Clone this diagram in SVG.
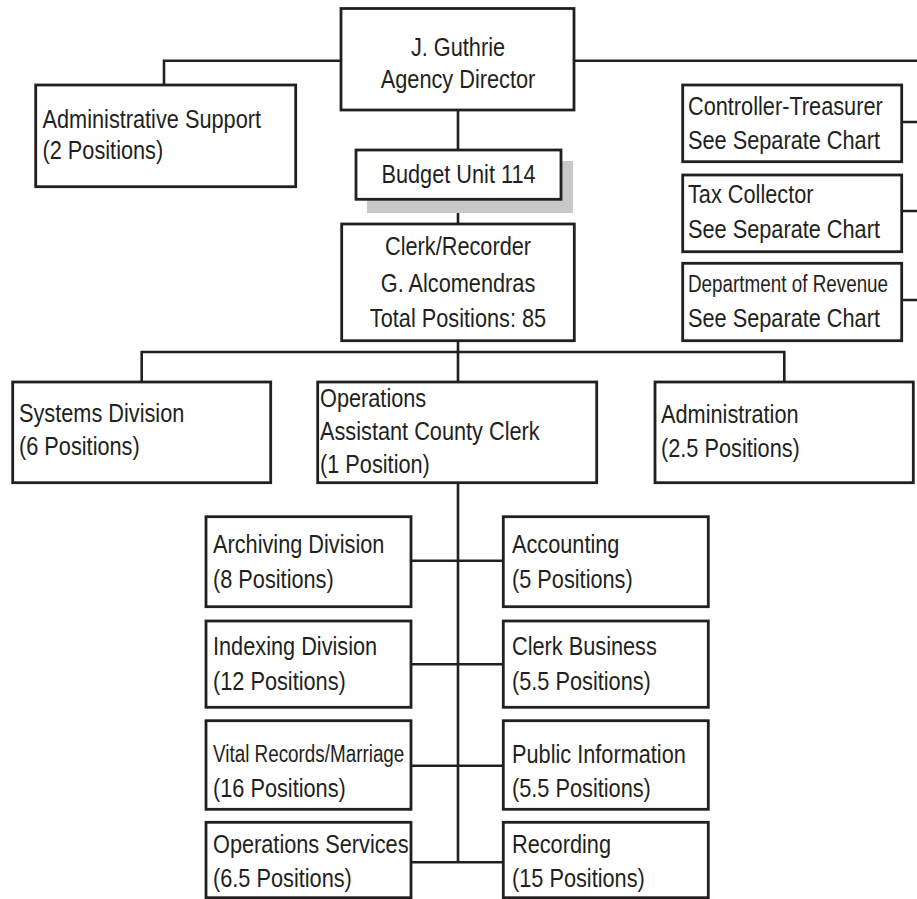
<svg xmlns="http://www.w3.org/2000/svg" width="917" height="899" viewBox="0 0 917 899">
  <style>
    .box { fill: #ffffff; stroke: #231f20; stroke-width: 2.8; }
    .shadow { fill: #c8c8c8; stroke: none; }
    .line { fill: none; stroke: #231f20; stroke-width: 2.6; }
    text { font-family: "Liberation Sans", Arial, sans-serif; font-size: 26.5px; fill: #231f20; }
    .c { text-anchor: middle; }
    .sm { font-size: 23px; }
  </style>
  <rect width="917" height="899" fill="#ffffff"/>

  <!-- connectors -->
  <g id="connectors">
    <path class="line" d="M164,85 V60.7 H341"/>
    <path class="line" d="M574,60.7 H917"/>
    <path class="line" d="M902,122 H917 M902,211 H917 M902,300 H917"/>
    <path class="line" d="M458,110 V150 M458,199 V224 M458,341 V382"/>
    <path class="line" d="M141.7,382 V352 H784.3 V382"/>
    <path class="line" d="M458,483 V862.3"/>
    <path class="line" d="M411,560.7 H503 M411,664.3 H503 M411,765.7 H503 M411,862.3 H503"/>
  </g>

  <!-- labels use a narrowed sans: each text is scaled to 82% width at its anchor -->
  <g id="director">
    <rect class="box" x="341" y="8.5" width="233" height="101.5"/>
    <text class="c" transform="translate(458,56) scale(0.82,1)">J. Guthrie</text>
    <text class="c" transform="translate(458,88) scale(0.82,1)">Agency Director</text>
  </g>

  <g id="admin-support">
    <rect class="box" x="35.7" y="85" width="260" height="101.7"/>
    <text transform="translate(42.5,128.3) scale(0.82,1)">Administrative Support</text>
    <text transform="translate(42.5,159.3) scale(0.82,1)">(2 Positions)</text>
  </g>

  <g id="budget-unit">
    <rect class="shadow" x="367" y="161" width="206" height="52"/>
    <rect class="box" x="356" y="150" width="205" height="49.3"/>
    <text class="c" transform="translate(458.5,182.7) scale(0.82,1)">Budget Unit 114</text>
  </g>

  <g id="controller-treasurer">
    <rect class="box" x="682.7" y="85" width="219" height="76.7"/>
    <text transform="translate(688,115) scale(0.82,1)">Controller-Treasurer</text>
    <text transform="translate(688,149) scale(0.82,1)">See Separate Chart</text>
  </g>

  <g id="tax-collector">
    <rect class="box" x="682.7" y="175" width="219" height="76.7"/>
    <text transform="translate(688,203.3) scale(0.82,1)">Tax Collector</text>
    <text transform="translate(688,238.3) scale(0.82,1)">See Separate Chart</text>
  </g>

  <g id="revenue">
    <rect class="box" x="682.7" y="263.3" width="219" height="77.4"/>
    <text class="sm" transform="translate(688,291.7) scale(0.82,1)">Department of Revenue</text>
    <text transform="translate(688,326.5) scale(0.82,1)">See Separate Chart</text>
  </g>

  <g id="clerk-recorder">
    <rect class="box" x="341.7" y="224" width="232.6" height="116.7"/>
    <text class="c" transform="translate(458,255) scale(0.82,1)">Clerk/Recorder</text>
    <text class="c" transform="translate(458,291.7) scale(0.82,1)">G. Alcomendras</text>
    <text class="c" transform="translate(458,326.7) scale(0.82,1)">Total Positions: 85</text>
  </g>

  <g id="systems">
    <rect class="box" x="12.7" y="382" width="258" height="100.7"/>
    <text transform="translate(19,421.7) scale(0.82,1)">Systems Division</text>
    <text transform="translate(19,455) scale(0.82,1)">(6 Positions)</text>
  </g>

  <g id="operations">
    <rect class="box" x="317.7" y="382" width="279" height="100.7"/>
    <text transform="translate(320,406.7) scale(0.82,1)">Operations</text>
    <text transform="translate(320,440) scale(0.82,1)">Assistant County Clerk</text>
    <text transform="translate(320,473.3) scale(0.82,1)">(1 Position)</text>
  </g>

  <g id="administration">
    <rect class="box" x="655" y="382" width="258.3" height="100.7"/>
    <text transform="translate(661,423.3) scale(0.82,1)">Administration</text>
    <text transform="translate(661,456.7) scale(0.82,1)">(2.5 Positions)</text>
  </g>

  <g id="archiving">
    <rect class="box" x="206" y="516.7" width="205" height="90"/>
    <text transform="translate(213,553.3) scale(0.82,1)">Archiving Division</text>
    <text transform="translate(213,588.3) scale(0.82,1)">(8 Positions)</text>
  </g>

  <g id="indexing">
    <rect class="box" x="206" y="621" width="205" height="86.3"/>
    <text transform="translate(213,655) scale(0.82,1)">Indexing Division</text>
    <text transform="translate(213,690) scale(0.82,1)">(12 Positions)</text>
  </g>

  <g id="vital-records">
    <rect class="box" x="206" y="720.7" width="205" height="88.6"/>
    <text class="sm" transform="translate(213,762) scale(0.82,1)">Vital Records/Marriage</text>
    <text transform="translate(213,796.7) scale(0.82,1)">(16 Positions)</text>
  </g>

  <g id="operations-services">
    <rect class="box" x="206" y="822.3" width="205" height="75.4"/>
    <text transform="translate(213,853.3) scale(0.82,1)">Operations Services</text>
    <text transform="translate(213,886.7) scale(0.82,1)">(6.5 Positions)</text>
  </g>

  <g id="accounting">
    <rect class="box" x="503.3" y="516.7" width="205" height="90"/>
    <text transform="translate(512,553.3) scale(0.82,1)">Accounting</text>
    <text transform="translate(512,588.3) scale(0.82,1)">(5 Positions)</text>
  </g>

  <g id="clerk-business">
    <rect class="box" x="503.3" y="621" width="205" height="86.3"/>
    <text transform="translate(512,655) scale(0.82,1)">Clerk Business</text>
    <text transform="translate(512,690) scale(0.82,1)">(5.5 Positions)</text>
  </g>

  <g id="public-information">
    <rect class="box" x="503.3" y="720.7" width="205" height="88.6"/>
    <text transform="translate(512,763) scale(0.82,1)">Public Information</text>
    <text transform="translate(512,796.7) scale(0.82,1)">(5.5 Positions)</text>
  </g>

  <g id="recording">
    <rect class="box" x="503.3" y="822.3" width="205" height="75.4"/>
    <text transform="translate(512,853.3) scale(0.82,1)">Recording</text>
    <text transform="translate(512,886.7) scale(0.82,1)">(15 Positions)</text>
  </g>
</svg>
